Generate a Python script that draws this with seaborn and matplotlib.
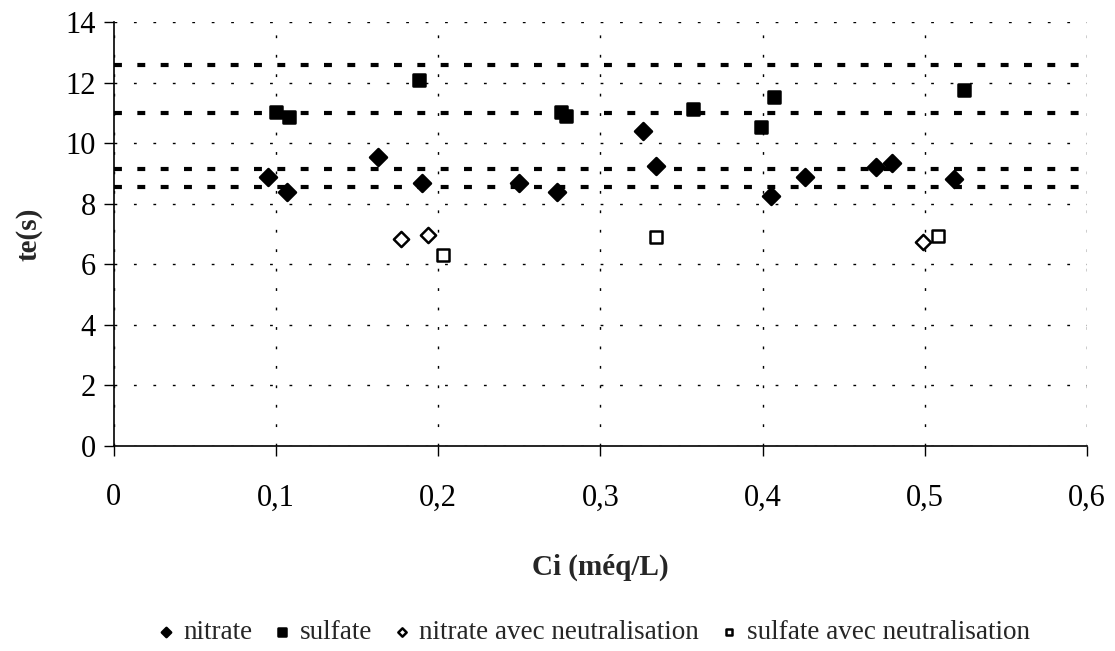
import pandas as pd
import matplotlib.pyplot as plt
import seaborn as sns

# nitrate (filled diamonds)
nitrate_x = [0.095, 0.107, 0.163, 0.190, 0.250, 0.273, 0.326, 0.334, 0.405, 0.426, 0.470, 0.480, 0.518]
nitrate_y = [8.9, 8.38, 9.56, 8.69, 8.69, 8.4, 10.39, 9.26, 8.27, 8.88, 9.21, 9.36, 8.83]

# sulfate (filled squares)
sulfate_x = [0.100, 0.108, 0.188, 0.276, 0.279, 0.357, 0.399, 0.407, 0.524]
sulfate_y = [11.04, 10.88, 12.1, 11.04, 10.9, 11.12, 10.53, 11.52, 11.75]

# avec neutralisation (open markers)
nitrate_neut_x = [0.177, 0.194, 0.499]
nitrate_neut_y = [6.84, 6.98, 6.74]
sulfate_neut_x = [0.203, 0.334, 0.508]
sulfate_neut_y = [6.32, 6.89, 6.93]

# thick dashed reference levels
ref_levels = [12.6, 11.0, 9.15, 8.55]

xticks = [0, 0.1, 0.2, 0.3, 0.4, 0.5, 0.6]
xtick_labels = ["0", "0,1", "0,2", "0,3", "0,4", "0,5", "0,6"]
yticks = [0, 2, 4, 6, 8, 10, 12, 14]

sns.set_style("white")
plt.rcParams["font.family"] = ["Liberation Serif", "DejaVu Serif"]

fig = plt.figure(figsize=(11.15, 6.51), dpi=100)
ax = fig.add_axes([0.102, 0.315, 0.873, 0.651])

for y in ref_levels:
    ax.axhline(y, color="black", lw=3, ls=(0, (1.9, 3.7)), zorder=2)

series = [
    ("nitrate", nitrate_x, nitrate_y, "D", "black", 75),
    ("sulfate", sulfate_x, sulfate_y, "s", "black", 85),
    ("nitrate avec neutralisation", nitrate_neut_x, nitrate_neut_y, "D", "white", 60),
    ("sulfate avec neutralisation", sulfate_neut_x, sulfate_neut_y, "s", "white", 80),
]
for name, xs, ys, m, fc, s in series:
    df = pd.DataFrame({"Ci": xs, "te": ys})
    sns.scatterplot(data=df, x="Ci", y="te", marker=m, s=s, color=fc,
                    edgecolor="black", linewidth=1.8, label=name, ax=ax, zorder=3)

ax.set_xlim(0, 0.6)
ax.set_ylim(0, 14)
ax.set_xticks(xticks)
ax.set_xticklabels(xtick_labels)
ax.set_yticks(yticks)
ax.grid(True, color="black", ls=(0, (2, 12)), lw=1)
for sp in ["top", "right"]:
    ax.spines[sp].set_visible(False)
for sp in ["left", "bottom"]:
    ax.spines[sp].set_color("black")
    ax.spines[sp].set_linewidth(1.2)
ax.tick_params(axis="both", direction="out", length=7, width=1, labelsize=22,
               colors="black", bottom=True, left=True)
ax.tick_params(axis="x", pad=20)
ax.tick_params(axis="y", pad=6)

ax.set_xlabel("Ci (méq/L)", fontsize=21, fontweight="bold", labelpad=30)
ax.set_ylabel("te(s)", fontsize=21, fontweight="bold", labelpad=16)

ax.legend(loc="center", bbox_to_anchor=(0.488, -0.44), ncol=4, frameon=False,
          fontsize=19.5, handletextpad=0.0, columnspacing=0.45, markerscale=0.55,
          handlelength=1.3, borderaxespad=0, borderpad=0.2)

fig.savefig("out.png", dpi=100)
